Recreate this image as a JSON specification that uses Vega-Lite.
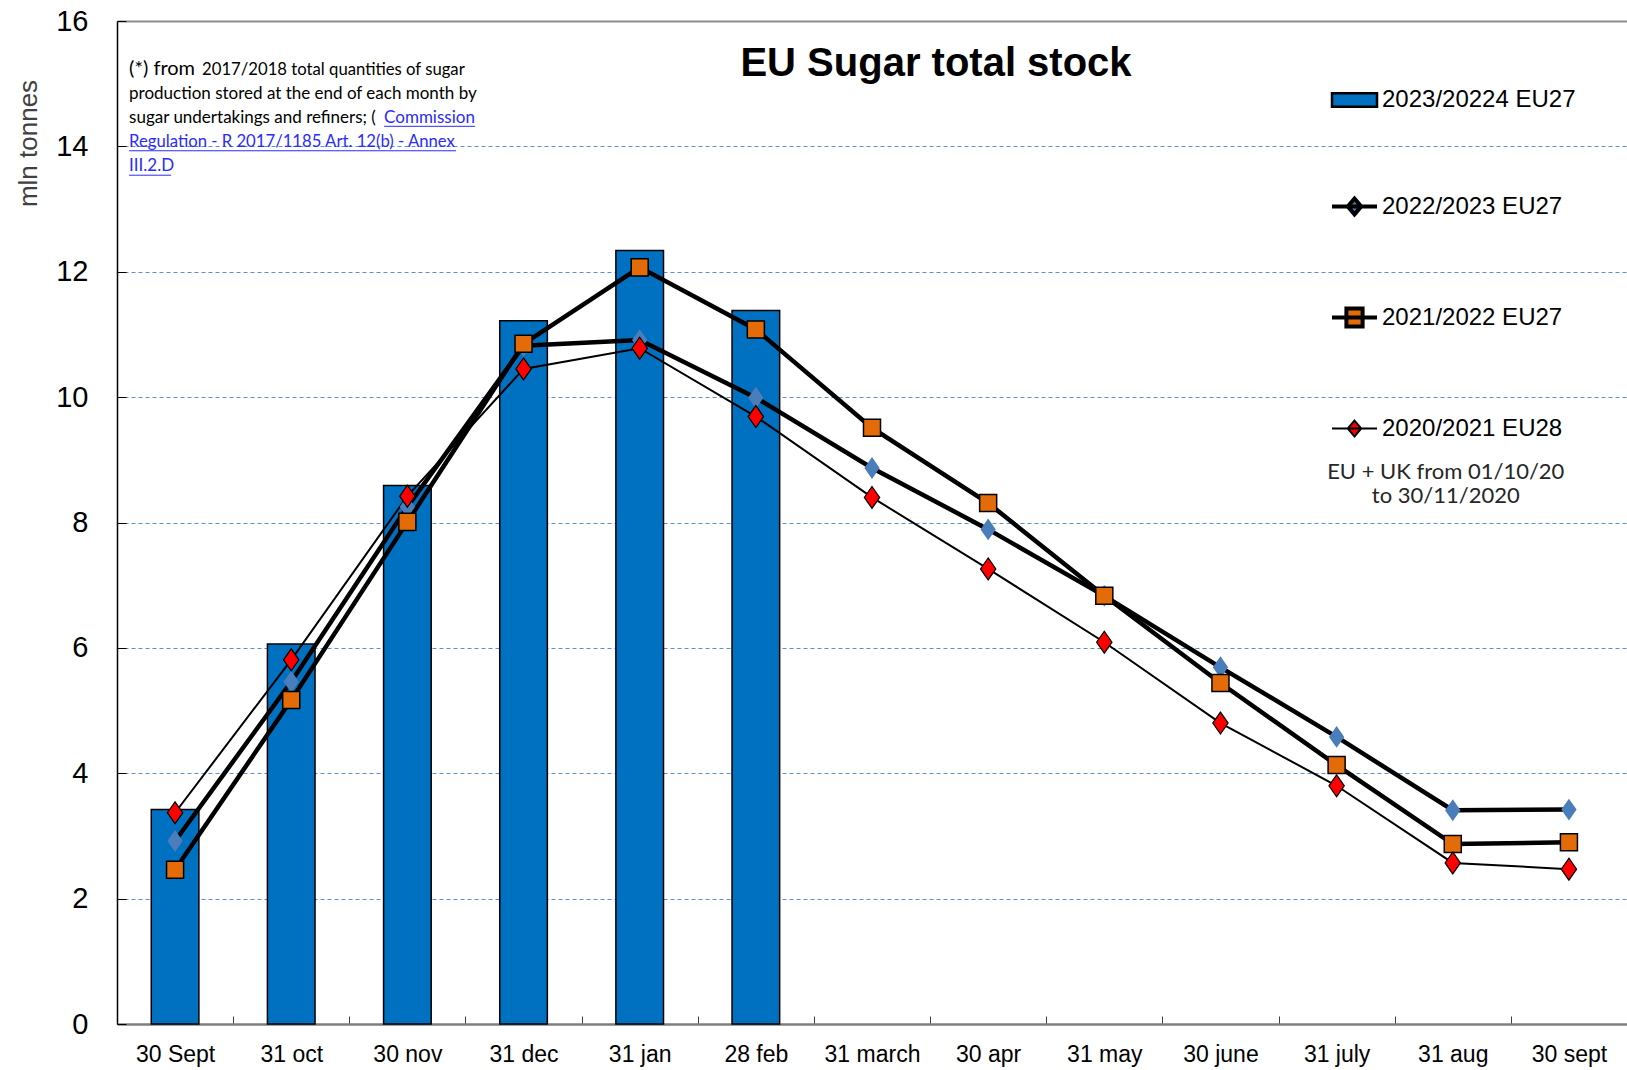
{
  "$schema": "https://vega.github.io/schema/vega-lite/v6.json",
  "autosize": "none",
  "width": 1510,
  "height": 1003,
  "padding": {"left": 117, "top": 21, "right": 0, "bottom": 46},
  "background": "white",
  "config": {"view": {"stroke": null}, "font": "Liberation Sans"},
  "title": {"text": "EU Sugar total stock", "font": "Liberation Sans", "fontSize": 40, "fontWeight": "bold", "color": "black", "anchor": "middle", "frame": "group", "orient": "top", "offset": 0, "baseline": "middle", "dx": 64, "dy": 97},
  "data": {"values": [
    {"month": "30 Sept", "series": "2023/20224  EU27", "value": 3.42},
    {"month": "31 oct", "series": "2023/20224  EU27", "value": 6.06},
    {"month": "30 nov", "series": "2023/20224  EU27", "value": 8.59},
    {"month": "31 dec", "series": "2023/20224  EU27", "value": 11.22},
    {"month": "31 jan", "series": "2023/20224  EU27", "value": 12.34},
    {"month": "28 feb", "series": "2023/20224  EU27", "value": 11.38},
    {"month": "30 Sept", "series": "2022/2023 EU27", "value": 2.92},
    {"month": "31 oct", "series": "2022/2023 EU27", "value": 5.46},
    {"month": "30 nov", "series": "2022/2023 EU27", "value": 8.25},
    {"month": "31 dec", "series": "2022/2023 EU27", "value": 10.82},
    {"month": "31 jan", "series": "2022/2023 EU27", "value": 10.91},
    {"month": "28 feb", "series": "2022/2023 EU27", "value": 9.99},
    {"month": "31 march", "series": "2022/2023 EU27", "value": 8.87},
    {"month": "30 apr", "series": "2022/2023 EU27", "value": 7.89},
    {"month": "31 may", "series": "2022/2023 EU27", "value": 6.83},
    {"month": "30 june", "series": "2022/2023 EU27", "value": 5.69},
    {"month": "31 july", "series": "2022/2023 EU27", "value": 4.58},
    {"month": "31 aug", "series": "2022/2023 EU27", "value": 3.41},
    {"month": "30 sept", "series": "2022/2023 EU27", "value": 3.42},
    {"month": "30 Sept", "series": "2021/2022 EU27", "value": 2.46},
    {"month": "31 oct", "series": "2021/2022 EU27", "value": 5.17},
    {"month": "30 nov", "series": "2021/2022 EU27", "value": 8.01},
    {"month": "31 dec", "series": "2021/2022 EU27", "value": 10.85},
    {"month": "31 jan", "series": "2021/2022 EU27", "value": 12.07},
    {"month": "28 feb", "series": "2021/2022 EU27", "value": 11.08},
    {"month": "31 march", "series": "2021/2022 EU27", "value": 9.51},
    {"month": "30 apr", "series": "2021/2022 EU27", "value": 8.31},
    {"month": "31 may", "series": "2021/2022 EU27", "value": 6.83},
    {"month": "30 june", "series": "2021/2022 EU27", "value": 5.44},
    {"month": "31 july", "series": "2021/2022 EU27", "value": 4.13},
    {"month": "31 aug", "series": "2021/2022 EU27", "value": 2.87},
    {"month": "30 sept", "series": "2021/2022 EU27", "value": 2.90},
    {"month": "30 Sept", "series": "2020/2021  EU28", "value": 3.37},
    {"month": "31 oct", "series": "2020/2021  EU28", "value": 5.81},
    {"month": "30 nov", "series": "2020/2021  EU28", "value": 8.42},
    {"month": "31 dec", "series": "2020/2021  EU28", "value": 10.45},
    {"month": "31 jan", "series": "2020/2021  EU28", "value": 10.78},
    {"month": "28 feb", "series": "2020/2021  EU28", "value": 9.69},
    {"month": "31 march", "series": "2020/2021  EU28", "value": 8.40},
    {"month": "30 apr", "series": "2020/2021  EU28", "value": 7.26},
    {"month": "31 may", "series": "2020/2021  EU28", "value": 6.09},
    {"month": "30 june", "series": "2020/2021  EU28", "value": 4.80},
    {"month": "31 july", "series": "2020/2021  EU28", "value": 3.80},
    {"month": "31 aug", "series": "2020/2021  EU28", "value": 2.57},
    {"month": "30 sept", "series": "2020/2021  EU28", "value": 2.47}
  ]},
  "encoding": {
    "x": {"field": "month", "type": "nominal", "sort": null,
      "scale": {"domain": ["30 Sept", "31 oct", "30 nov", "31 dec", "31 jan", "28 feb", "31 march", "30 apr", "31 may", "30 june", "31 july", "31 aug", "30 sept"], "paddingInner": 0, "paddingOuter": 0},
      "axis": {"title": null, "labelAngle": 0, "labelFont": "Liberation Sans", "labelFontSize": 23, "labelColor": "black", "labelPadding": 27, "tickBand": "extent", "tickSize": -8, "tickColor": "#404040", "tickWidth": 1, "domainColor": "#7f7f7f", "domainWidth": 2.5, "grid": false}},
    "y": {"field": "value", "type": "quantitative",
      "scale": {"domain": [0, 16], "nice": false, "zero": true},
      "axis": {"values": [0, 2, 4, 6, 8, 10, 12, 14, 16], "title": "mln tonnes", "titleFont": "Liberation Sans", "titleFontSize": 26, "titleFontWeight": "normal", "titleColor": "#404040", "titleX": -89, "titleY": 122, "titleAlign": "center", "titleBaseline": "middle", "titleAngle": -90,
        "labelFont": "Liberation Sans", "labelFontSize": 29, "labelColor": "black", "labelPadding": 38, "tickSize": -9, "tickColor": "black", "domainColor": "black", "domainWidth": 1.5,
        "grid": true,
        "gridColor": {"condition": {"test": "datum.value == 16", "value": "#8c8c8c"}, "value": "#5b8fd0"},
        "gridDash": {"condition": {"test": "datum.value == 16", "value": []}, "value": [4, 3]},
        "gridWidth": {"condition": {"test": "datum.value == 16", "value": 2}, "value": 1}}}
  },
  "layer": [
    {"transform": [{"filter": "datum.series == '2023/20224  EU27'"}],
     "mark": {"type": "bar", "fill": "#0070C0", "stroke": "black", "strokeWidth": 1.5, "width": {"band": 0.41}}},
    {"mark": {"type": "point", "filled": true, "opacity": 0},
     "encoding": {
       "stroke": {"field": "series", "type": "nominal",
         "scale": {"domain": ["2023/20224  EU27", "2022/2023 EU27", "2021/2022 EU27", "2020/2021  EU28"], "range": ["black", "black", "black", "black"]},
         "legend": {"title": null, "orient": "none", "legendX": 1213, "legendY": 55, "symbolSize": 2025, "symbolOpacity": 1, "rowPadding": 70, "labelFont": "Liberation Sans", "labelFontSize": 24, "labelColor": "black", "labelOffset": 3, "labelLimit": 0, "padding": 0}},
       "strokeWidth": {"field": "series", "type": "ordinal",
         "scale": {"type": "ordinal", "domain": ["2023/20224  EU27", "2022/2023 EU27", "2021/2022 EU27", "2020/2021  EU28"], "range": [2.5, 4, 4, 2]},
         "legend": {"title": null, "orient": "none", "legendX": 1213, "legendY": 55, "symbolSize": 2025, "symbolOpacity": 1, "rowPadding": 70, "labelFont": "Liberation Sans", "labelFontSize": 24, "labelColor": "black", "labelOffset": 3, "labelLimit": 0, "padding": 0}},
       "fill": {"field": "series", "type": "nominal",
         "scale": {"domain": ["2023/20224  EU27", "2022/2023 EU27", "2021/2022 EU27", "2020/2021  EU28"], "range": ["#0070C0", "#4A7EBB", "#E36C09", "#FF0000"]},
         "legend": {"title": null, "orient": "none", "legendX": 1213, "legendY": 55, "symbolSize": 2025, "symbolOpacity": 1, "rowPadding": 70, "labelFont": "Liberation Sans", "labelFontSize": 24, "labelColor": "black", "labelOffset": 3, "labelLimit": 0, "padding": 0}},
       "shape": {"field": "series", "type": "nominal",
         "scale": {"domain": ["2023/20224  EU27", "2022/2023 EU27", "2021/2022 EU27", "2020/2021  EU28"], "range": ["M-1,-0.3H1V0.3H-1Z", "M-1,0H1M0,-0.35L0.3,0L0,0.35L-0.3,0Z", "M-1,0H1M-0.36,-0.4H0.36V0.4H-0.36Z", "M-1,0H1M0,-0.35L0.3,0L0,0.35L-0.3,0Z"]},
         "legend": {"title": null, "orient": "none", "legendX": 1213, "legendY": 55, "symbolSize": 2025, "symbolOpacity": 1, "rowPadding": 70, "labelFont": "Liberation Sans", "labelFontSize": 24, "labelColor": "black", "labelOffset": 3, "labelLimit": 0, "padding": 0}}
     }},
    {"transform": [{"filter": "datum.series == '2022/2023 EU27' || datum.series == '2021/2022 EU27'"}],
     "mark": {"type": "line", "color": "black", "strokeWidth": 4.5},
     "encoding": {"detail": {"field": "series", "type": "nominal"}}},
    {"transform": [{"filter": "datum.series == '2020/2021  EU28'"}],
     "mark": {"type": "line", "color": "black", "strokeWidth": 2},
     "encoding": {}},
    {"transform": [{"filter": "datum.series == '2022/2023 EU27'"}],
     "mark": {"type": "point", "filled": true, "shape": "M0,-1L0.7,0L0,1L-0.7,0Z", "size": 480, "fill": "#4A7EBB", "opacity": 1, "strokeWidth": 0}},
    {"transform": [{"filter": "datum.series == '2021/2022 EU27'"}],
     "mark": {"type": "point", "filled": true, "shape": "square", "size": 290, "fill": "#E36C09", "stroke": "black", "strokeWidth": 1.5, "opacity": 1}},
    {"transform": [{"filter": "datum.series == '2020/2021  EU28'"}],
     "mark": {"type": "point", "filled": true, "shape": "M0,-1L0.7,0L0,1L-0.7,0Z", "size": 480, "fill": "#FF0000", "stroke": "black", "strokeWidth": 1.2, "opacity": 1}},
    {"transform": [{"filter": "datum.month == '30 Sept' && datum.series == '2022/2023 EU27'"}],
     "mark": {"type": "text", "align": "left", "baseline": "middle", "font": "Lato", "fontSize": 20, "color": "black", "dx": -46, "text": "(*) from"},
     "encoding": {"y": {"datum": 15.24}}},
    {"transform": [{"filter": "datum.month == '30 Sept' && datum.series == '2022/2023 EU27'"}],
     "mark": {"type": "text", "align": "left", "baseline": "middle", "font": "Lato", "fontSize": 16.7, "color": "black", "dx": 27, "text": "2017/2018 total quantities of sugar"},
     "encoding": {"y": {"datum": 15.22}}},
    {"transform": [{"filter": "datum.month == '30 Sept' && datum.series == '2022/2023 EU27'"}],
     "mark": {"type": "text", "align": "left", "baseline": "middle", "font": "Lato", "fontSize": 17, "color": "black", "dx": -46, "text": "production stored at the end of each month by"},
     "encoding": {"y": {"datum": 14.84}}},
    {"transform": [{"filter": "datum.month == '30 Sept' && datum.series == '2022/2023 EU27'"}],
     "mark": {"type": "text", "align": "left", "baseline": "middle", "font": "Lato", "fontSize": 17, "color": "black", "dx": -46, "text": "sugar undertakings and refiners; ("},
     "encoding": {"y": {"datum": 14.46}}},
    {"transform": [{"filter": "datum.month == '30 Sept' && datum.series == '2022/2023 EU27'"}],
     "mark": {"type": "text", "align": "left", "baseline": "middle", "font": "Lato", "fontSize": 17, "color": "#2b2bff", "dx": 209, "text": "Commission"},
     "encoding": {"y": {"datum": 14.46}}},
    {"transform": [{"filter": "datum.month == '30 Sept' && datum.series == '2022/2023 EU27'"}],
     "mark": {"type": "text", "align": "left", "baseline": "middle", "font": "Lato", "fontSize": 16.7, "color": "#2b2bff", "dx": -46, "text": "Regulation - R 2017/1185 Art. 12(b) - Annex"},
     "encoding": {"y": {"datum": 14.07}}},
    {"transform": [{"filter": "datum.month == '30 Sept' && datum.series == '2022/2023 EU27'"}],
     "mark": {"type": "text", "align": "left", "baseline": "middle", "font": "Lato", "fontSize": 17, "color": "#2b2bff", "dx": -46, "text": "III.2.D"},
     "encoding": {"y": {"datum": 13.68}}},
    {"transform": [{"filter": "datum.month == '30 Sept' && datum.series == '2022/2023 EU27'"}],
     "mark": {"type": "rule", "color": "#2b2bff", "strokeWidth": 1, "xOffset": 209, "x2Offset": 300},
     "encoding": {"x": {"datum": "30 Sept"}, "x2": {"datum": "30 Sept"}, "y": {"datum": 14.32}}},
    {"transform": [{"filter": "datum.month == '30 Sept' && datum.series == '2022/2023 EU27'"}],
     "mark": {"type": "rule", "color": "#2b2bff", "strokeWidth": 1, "xOffset": -46, "x2Offset": 281},
     "encoding": {"x": {"datum": "30 Sept"}, "x2": {"datum": "30 Sept"}, "y": {"datum": 13.93}}},
    {"transform": [{"filter": "datum.month == '30 Sept' && datum.series == '2022/2023 EU27'"}],
     "mark": {"type": "rule", "color": "#2b2bff", "strokeWidth": 1, "xOffset": -46, "x2Offset": -4},
     "encoding": {"x": {"datum": "30 Sept"}, "x2": {"datum": "30 Sept"}, "y": {"datum": 13.54}}},
    {"transform": [{"filter": "datum.month == '31 aug' && datum.series == '2022/2023 EU27'"}],
     "mark": {"type": "text", "align": "center", "baseline": "middle", "font": "Lato", "fontSize": 22, "lineHeight": 24, "color": "#262626", "dx": -7, "text": ["EU + UK from 01/10/20", "to 30/11/2020"]},
     "encoding": {"y": {"datum": 8.80}}}
  ]
}
